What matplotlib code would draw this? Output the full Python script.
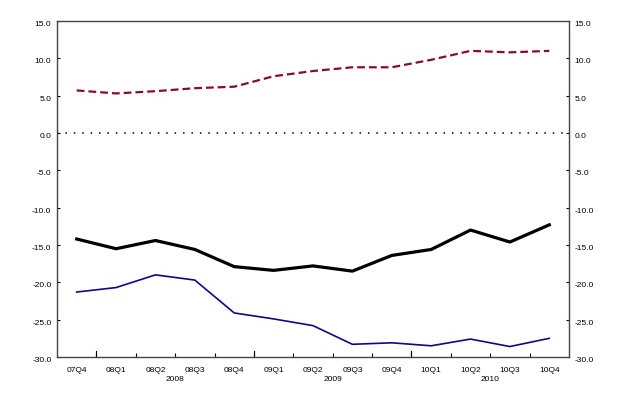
import numpy as np
import matplotlib.pyplot as plt
from matplotlib.ticker import FixedLocator, FuncFormatter

quarters = ['07Q4', '08Q1', '08Q2', '08Q3', '08Q4', '09Q1', '09Q2',
            '09Q3', '09Q4', '10Q1', '10Q2', '10Q3', '10Q4']
years = ['2008', '2009', '2010']
year_centers = [2.5, 6.5, 10.5]

red_dashed = [5.7, 5.3, 5.6, 6.0, 6.2, 7.6, 8.3, 8.8, 8.8, 9.8, 11.0, 10.8, 11.0]
black_line = [-14.2, -15.5, -14.4, -15.6, -17.9, -18.4, -17.8, -18.5, -16.4,
              -15.6, -13.0, -14.6, -12.3]
blue_line = [-21.3, -20.7, -19.0, -19.7, -24.1, -24.9, -25.8, -28.3, -28.1,
             -28.5, -27.6, -28.6, -27.5]

plt.rcParams['font.family'] = ['Liberation Sans', 'DejaVu Sans']

fig = plt.figure(figsize=(6.23, 3.96), dpi=100)
ax = fig.add_axes([0.0915, 0.0985, 0.8218, 0.8485])

x = np.arange(len(quarters))
ax.axhline(0, color='black', linestyle=(0, (1, 4.5)), linewidth=1.1)
ax.plot(x, red_dashed, color='#8b0a2e', linestyle=(0, (3.5, 1.8)), linewidth=1.6)
ax.plot(x, black_line, color='black', linewidth=2.3)
ax.plot(x, blue_line, color='#0a0a8a', linewidth=1.2)

ax.set_xlim(-0.5, len(quarters) - 0.5)
ax.set_ylim(-30, 15)

# quarter labels at category centres, ticks between categories
ax.set_xticks(x)
ax.set_xticklabels(quarters, fontsize=6)
ax.tick_params(axis='x', which='major', length=0, pad=7)
ax.xaxis.set_minor_locator(FixedLocator(np.arange(0.5, len(quarters) - 0.5, 1)))
ax.tick_params(axis='x', which='minor', direction='in', length=3, width=0.8)
for bx in [0.5, 4.5, 8.5]:
    ax.plot([bx, bx], [0, 0.018], transform=ax.get_xaxis_transform(),
            color='black', linewidth=0.8, clip_on=False)

for yc, yr in zip(year_centers, years):
    ax.text(yc, -0.056, yr, transform=ax.get_xaxis_transform(),
            ha='center', va='top', fontsize=6)

yt = np.arange(-30, 16, 5)
ax.set_yticks(yt)
ax.yaxis.set_major_formatter(FuncFormatter(lambda v, p: f'{v:.1f}'))
ax.tick_params(axis='y', which='major', direction='in', length=2, width=0.8,
               labelsize=6, left=True, right=True, labelleft=True, labelright=True,
               pad=4)
for t in ax.yaxis.get_major_ticks():
    t.label1.set_va('top')
    t.label2.set_va('top')

for s in ax.spines.values():
    s.set_color('#444444')
    s.set_linewidth(1.0)

fig.savefig('out.png', dpi=100)
